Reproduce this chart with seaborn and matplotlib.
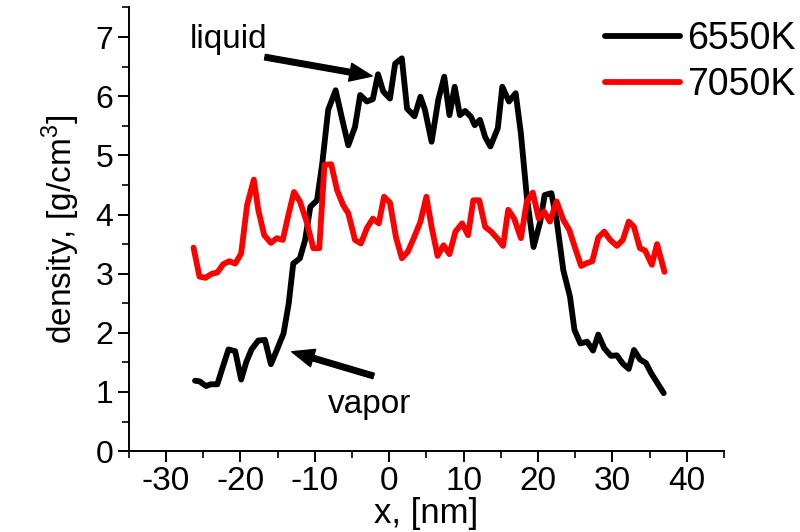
import numpy as np
import pandas as pd
import matplotlib
matplotlib.use("Agg")
import matplotlib.pyplot as plt
from matplotlib.ticker import MultipleLocator
import seaborn as sns

# density profiles across the slab, x in nm, density in g/cm^3
x_6550 = [-26.1, -25.5, -24.6, -24.0, -23.1, -22.5, -21.6, -20.7, -19.9, -19.2,
          -18.5, -17.6, -16.7, -15.9, -15.1, -14.2, -13.5, -12.9, -12.0, -11.3,
          -10.6, -9.7, -9.0, -8.2, -7.2, -6.3, -5.5, -4.6, -3.9, -3.0,
          -2.2, -1.5, -0.8, 0.1, 0.8, 1.7, 2.4, 3.4, 4.2, 4.8,
          5.7, 6.6, 7.4, 8.1, 8.8, 9.5, 10.2, 11.0, 11.5, 12.2,
          12.9, 13.6, 14.6, 15.2, 16.1, 17.0, 17.7, 18.5, 19.4, 20.3,
          20.9, 21.8, 22.5, 23.4, 24.3, 24.9, 25.7, 26.6, 27.4, 28.1,
          28.9, 29.8, 30.6, 31.4, 32.2, 32.9, 33.7, 34.5, 35.2, 36.0,
          36.9]
d_6550 = [1.19, 1.18, 1.10, 1.13, 1.13, 1.37, 1.72, 1.69, 1.21, 1.51,
          1.72, 1.87, 1.88, 1.47, 1.71, 1.99, 2.50, 3.17, 3.26, 3.57,
          4.13, 4.24, 4.86, 5.77, 6.10, 5.60, 5.17, 5.48, 6.02, 5.91,
          5.95, 6.37, 6.08, 5.96, 6.55, 6.64, 5.79, 5.66, 5.99, 5.77,
          5.23, 5.94, 6.33, 5.68, 6.16, 5.68, 5.75, 5.65, 5.51, 5.60,
          5.31, 5.15, 5.46, 6.16, 5.91, 6.05, 5.37, 4.30, 3.45, 3.88,
          4.33, 4.36, 3.91, 3.06, 2.61, 2.05, 1.82, 1.85, 1.70, 1.97,
          1.74, 1.61, 1.62, 1.48, 1.39, 1.71, 1.55, 1.49, 1.32, 1.16,
          0.98]

x_7050 = [-26.3, -25.5, -24.7, -23.8, -23.1, -22.3, -21.5, -20.7, -19.9, -19.1,
          -18.2, -17.6, -16.8, -15.9, -15.1, -14.3, -13.5, -12.8, -12.0, -11.1,
          -10.2, -9.4, -8.7, -7.8, -7.0, -6.2, -5.5, -4.6, -3.8, -3.0,
          -2.2, -1.4, -0.7, 0.1, 0.9, 1.7, 2.5, 3.3, 4.2, 5.0,
          5.7, 6.5, 7.3, 8.1, 8.9, 9.8, 10.6, 11.3, 12.1, 12.9,
          13.7, 14.5, 15.3, 16.0, 16.8, 17.7, 18.5, 19.3, 20.1, 20.8,
          21.6, 22.5, 23.4, 24.2, 25.0, 25.8, 26.6, 27.3, 28.1, 28.9,
          29.7, 30.6, 31.4, 32.2, 32.9, 33.7, 34.4, 35.3, 36.0, 37.0]
d_7050 = [3.44, 2.95, 2.93, 3.00, 3.02, 3.16, 3.21, 3.17, 3.34, 4.16,
          4.59, 4.08, 3.65, 3.52, 3.60, 3.57, 4.02, 4.38, 4.22, 3.88,
          3.43, 3.43, 4.84, 4.85, 4.41, 4.16, 4.02, 3.57, 3.51, 3.77,
          3.93, 3.85, 4.30, 4.20, 3.62, 3.26, 3.37, 3.60, 3.88, 4.30,
          3.79, 3.30, 3.48, 3.33, 3.71, 3.85, 3.65, 4.24, 4.24, 3.79,
          3.71, 3.60, 3.47, 4.08, 3.93, 3.60, 4.22, 4.37, 3.93, 4.05,
          3.88, 4.22, 3.91, 3.74, 3.43, 3.13, 3.18, 3.21, 3.61, 3.71,
          3.57, 3.47, 3.57, 3.88, 3.79, 3.43, 3.39, 3.15, 3.50, 3.03]

series_labels = ["6550K", "7050K"]
series_colors = ["#000000", "#ff0000"]

df = pd.concat([
    pd.DataFrame({"x": x_6550, "density": d_6550, "T": series_labels[0]}),
    pd.DataFrame({"x": x_7050, "density": d_7050, "T": series_labels[1]}),
], ignore_index=True)

sns.set_theme(style="ticks")
plt.rcParams["font.family"] = ["Liberation Sans", "DejaVu Sans"]
plt.rcParams["mathtext.fontset"] = "custom"
plt.rcParams["mathtext.rm"] = "Liberation Sans"
plt.rcParams["axes.unicode_minus"] = False
plt.rcParams["text.color"] = "black"
plt.rcParams["axes.labelcolor"] = "black"
plt.rcParams["xtick.color"] = "black"
plt.rcParams["ytick.color"] = "black"

fig = plt.figure(figsize=(8.0, 5.32), dpi=100)
ax = fig.add_axes([0.161, 0.152, 0.744, 0.834])

sns.lineplot(data=df, x="x", y="density", hue="T", hue_order=series_labels,
             palette=series_colors, estimator=None, sort=False,
             linewidth=4.2, ax=ax)

ax.set_xlim(-35, 45)
ax.set_ylim(0, 7.5)
ax.xaxis.set_minor_locator(MultipleLocator(5))
ax.yaxis.set_minor_locator(MultipleLocator(0.5))
ax.set_xticks(range(-30, 41, 10))
ax.set_yticks(range(0, 8))

for side in ("top", "right"):
    ax.spines[side].set_visible(False)
for side in ("left", "bottom"):
    ax.spines[side].set_linewidth(1.4)
    ax.spines[side].set_color("black")

ax.tick_params(axis="both", which="major", direction="out", length=8,
               width=1.4, colors="black", labelsize=23, pad=3)
ax.tick_params(axis="x", which="major", labelsize=24)
ax.tick_params(axis="both", which="minor", direction="out", length=5,
               width=1.2, colors="black")

ax.set_xlabel("x, [nm]", fontsize=25, labelpad=0)
ax.set_ylabel("density, [g/cm$^3$]", fontsize=24, labelpad=10)

handles, _ = ax.get_legend_handles_labels()
ax.legend(handles, series_labels, loc="upper right",
          bbox_to_anchor=(1.004, 0.975), bbox_transform=fig.transFigure,
          frameon=False, fontsize=27, handlelength=2.0, handletextpad=0.2,
          labelspacing=0.28, borderaxespad=0.0, borderpad=0.2)

arrow_kw = dict(facecolor="black", edgecolor="black", width=4,
                headwidth=13, headlength=16, shrink=0)
ax.annotate("", xy=(-2.3, 6.34), xytext=(-16.7, 6.66), arrowprops=arrow_kw)
ax.text(-21.6, 6.96, "liquid", fontsize=24, ha="center", va="center")
ax.annotate("", xy=(-13.1, 1.68), xytext=(-2.1, 1.27), arrowprops=arrow_kw)
ax.text(-2.6, 0.78, "vapor", fontsize=24, ha="center", va="center")

fig.savefig("out.png", dpi=100)
